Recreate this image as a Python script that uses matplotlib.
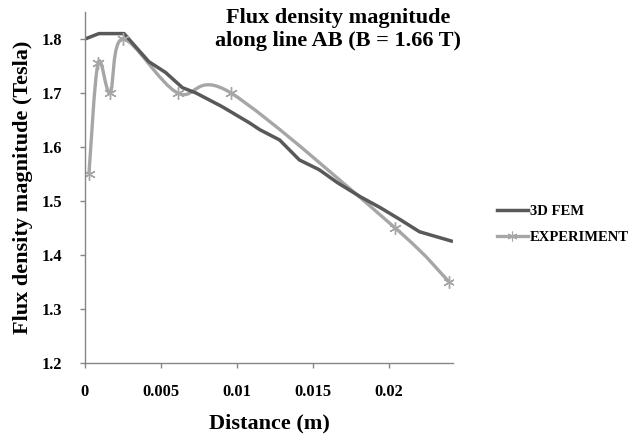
import matplotlib
matplotlib.use("Agg")
import matplotlib.pyplot as plt
from matplotlib.path import Path
from matplotlib.patches import PathPatch
from matplotlib.lines import Line2D
import numpy as np

# ========================= data ========================= #
fem_x = [0.0, 0.00092, 0.00257, 0.0031, 0.0042, 0.0053, 0.0064, 0.0073, 0.0090,
         0.0108, 0.0115, 0.0128, 0.0141, 0.0154, 0.0166, 0.0181, 0.0194, 0.0207,
         0.0220, 0.0242]
fem_y = [1.800, 1.810, 1.810, 1.793, 1.758, 1.738, 1.710, 1.700, 1.675,
         1.645, 1.632, 1.613, 1.576, 1.558, 1.534, 1.508, 1.488, 1.466,
         1.443, 1.425]

exp_x = [0.00026, 0.00086, 0.00165, 0.0025, 0.0061, 0.0096, 0.0204, 0.02395]
exp_y = [1.55, 1.755, 1.70, 1.80, 1.70, 1.70, 1.45, 1.35]

xticks = [0, 0.005, 0.01, 0.015, 0.02]
xticklabels = ["0", "0.005", "0.01", "0.015", "0.02"]
yticks = [1.2, 1.3, 1.4, 1.5, 1.6, 1.7, 1.8]
# ======================================================== #

plt.rcParams['font.family'] = ['Liberation Serif', 'DejaVu Serif']
plt.rcParams['font.weight'] = 'bold'

fem_col = '#595959'
exp_col = '#a6a6a6'
axis_col = '#868686'

fig = plt.figure(figsize=(6.38, 4.36), dpi=100)
ax = fig.add_axes([0.1332, 0.1674, 0.710 - 0.1332, 0.9725 - 0.1674])

ax.plot(fem_x, fem_y, color=fem_col, lw=2.5, solid_capstyle='butt')


# excel style smoothed line: bezier segments through the points
def smooth_path(xs, ys):
    p = np.column_stack([xs, ys])
    n = len(p)
    verts = [p[0]]
    codes = [Path.MOVETO]
    for i in range(n - 1):
        p0 = p[i - 1] if i > 0 else p[i]
        p3 = p[i + 2] if i + 2 < n else p[i + 1]
        c1 = p[i] + (p[i + 1] - p0) / 6.0
        c2 = p[i + 1] - (p3 - p[i]) / 6.0
        verts += [c1, c2, p[i + 1]]
        codes += [Path.CURVE4] * 3
    return Path(verts, codes)


ax.add_patch(PathPatch(smooth_path(exp_x, exp_y), fill=False, edgecolor=exp_col,
                       lw=2.4, capstyle='butt'))
ax.plot(exp_x, exp_y, ls='none', marker=(6, 2, 0), ms=9, mec=exp_col, mew=1.0)

ax.set_xlim(0, 0.0242)
ax.set_ylim(1.2, 1.85)
ax.set_xticks(xticks)
ax.set_xticklabels(xticklabels)
ax.set_yticks(yticks)
ax.set_yticklabels(["%.1f" % v for v in yticks])

for s in ['top', 'right']:
    ax.spines[s].set_visible(False)
for s in ['left', 'bottom']:
    ax.spines[s].set_color(axis_col)
    ax.spines[s].set_linewidth(1.0)
ax.tick_params(axis='both', direction='out', length=3.5, width=1.0, color=axis_col,
               labelsize=11.8)
ax.tick_params(axis='x', pad=11.5)
ax.tick_params(axis='y', pad=13)

ax.set_xlabel("Distance (m)", fontsize=16, fontweight='bold', labelpad=10)
ax.set_ylabel("Flux density magnitude (Tesla)", fontsize=16, fontweight='bold',
              labelpad=6)

fig.text(0.530, 0.982, "Flux density magnitude\nalong line AB (B = 1.66 T)",
         ha='center', va='top', fontsize=16, fontweight='bold', linespacing=1.2)

handles = [Line2D([], [], color=fem_col, lw=2.5),
           Line2D([], [], color=exp_col, lw=2.4, marker=(6, 2, 0), ms=7,
                  mec=exp_col, mew=0.8)]
fig.legend(handles, ["3D FEM", "EXPERIMENT"], loc='center left',
           bbox_to_anchor=(0.779, 0.485), frameon=False,
           handlelength=2.1, handletextpad=0.15, labelspacing=0.85,
           borderpad=0, borderaxespad=0,
           prop={'weight': 'bold', 'size': 10.5})

fig.savefig("out.png", dpi=100)
